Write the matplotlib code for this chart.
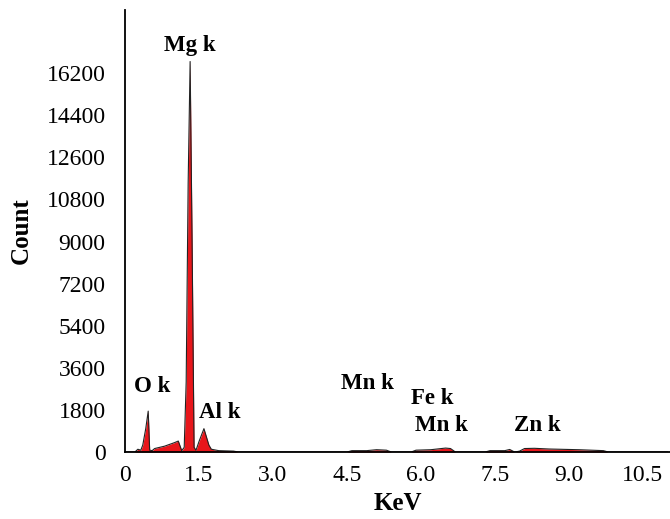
import matplotlib
matplotlib.use("Agg")
import matplotlib.pyplot as plt

plt.rcParams['font.family'] = ['Liberation Serif', 'DejaVu Serif']

energy_kev = [0.00, 0.20, 0.26, 0.32, 0.36, 0.42, 0.47, 0.50, 0.55, 0.60, 0.80, 1.00, 1.08, 1.15,
              1.20, 1.24, 1.28, 1.32, 1.36, 1.40, 1.44, 1.50, 1.60, 1.70, 1.75, 1.90, 2.20, 2.30,
              4.50, 4.60, 4.90, 5.10, 5.30, 5.40, 5.80, 5.90, 6.20, 6.50, 6.60, 6.70,
              7.30, 7.40, 7.70, 7.80, 7.90, 8.00, 8.10, 8.30, 8.60, 9.20, 9.70, 9.80, 11.0]
counts = [0, 0, 120, 80, 300, 1000, 1750, 80, 60, 150, 250, 400, 470, 60,
          200, 3000, 11500, 16700, 9000, 200, 80, 450, 1000, 300, 120, 60, 40, 0,
          0, 60, 60, 100, 80, 0, 0, 80, 100, 170, 150, 0,
          0, 60, 60, 110, 0, 40, 150, 160, 130, 100, 60, 0, 0]

peak_labels = ["Mg k", "O k", "Al k", "Mn k", "Fe k", "Mn k", "Zn k"]
peak_label_x = [1.32, 0.55, 1.93, 4.91, 6.23, 6.41, 8.36]
peak_label_y = [17400, 2800, 1700, 2950, 2270, 1150, 1150]

y_ticks = [0, 1800, 3600, 5400, 7200, 9000, 10800, 12600, 14400, 16200]
x_ticks = [0, 1.5, 3.0, 4.5, 6.0, 7.5, 9.0, 10.5]
x_tick_labels = ["0", "1.5", "3.0", "4.5", "6.0", "7.5", "9.0", "10.5"]

fig = plt.figure(figsize=(6.7, 5.19), dpi=100)
ax = fig.add_axes([0.1866, 0.129, 0.8134, 0.8516])

ax.fill_between(energy_kev, counts, 0, color='#e8161b', linewidth=0)
ax.plot(energy_kev, counts, color='#222222', linewidth=0.8)

for lab, lx, ly in zip(peak_labels, peak_label_x, peak_label_y):
    ax.text(lx, ly, lab, ha='center', va='center', fontsize=16.5, fontweight='bold')

ax.set_xlim(0, 11.05)
ax.set_ylim(0, 18900)
ax.set_yticks(y_ticks)
ax.set_xticks(x_ticks)
ax.set_xticklabels(x_tick_labels)
ax.tick_params(axis='both', length=0, labelsize=17)
ax.tick_params(axis='y', pad=14)
ax.tick_params(axis='x', pad=9)
for s in ['top', 'right']:
    ax.spines[s].set_visible(False)
for s in ['left', 'bottom']:
    ax.spines[s].set_linewidth(1.3)

ax.set_ylabel("Count", fontsize=18, fontweight='bold', labelpad=10)
ax.set_xlabel("KeV", fontsize=18, fontweight='bold', labelpad=5)

fig.savefig("out.png", dpi=100)
